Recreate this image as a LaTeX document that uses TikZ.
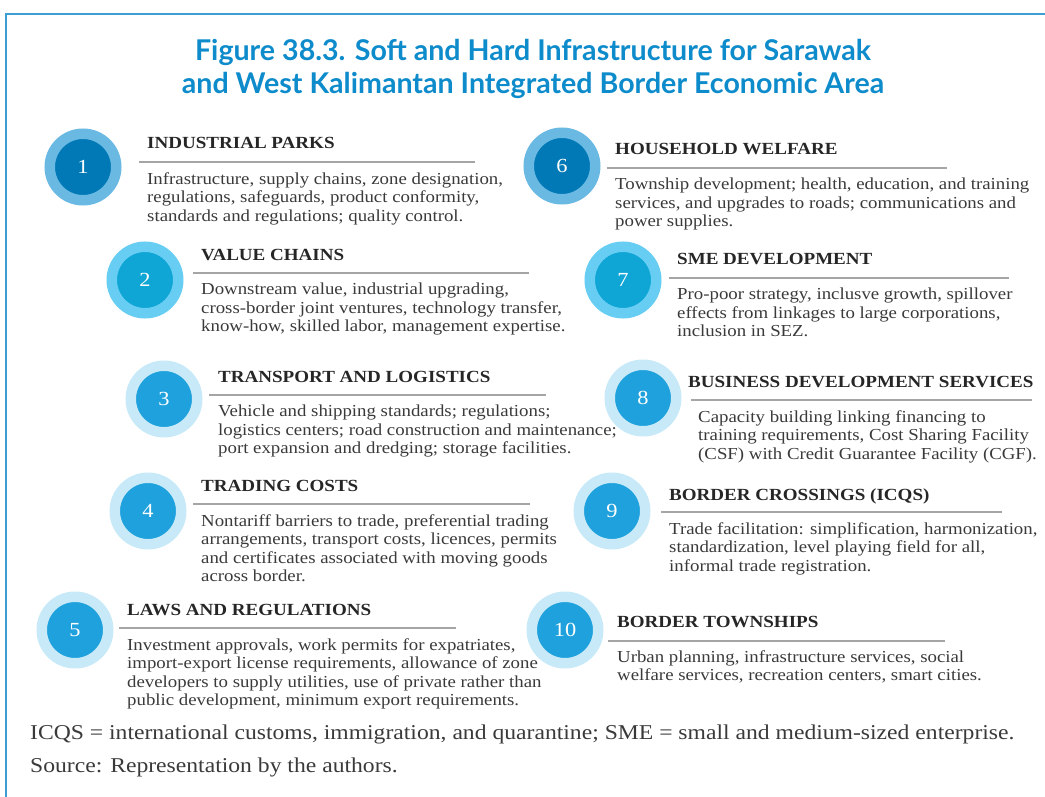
\documentclass[tikz,border=0pt]{standalone}
\usepackage{fontspec}
\setmainfont{Liberation Serif}[FakeStretch=1.12]
\newfontfamily\titlefont{Lato}
\definecolor{framblue}{HTML}{3C9FD4}
\definecolor{titleblue}{HTML}{0D8BCB}
\definecolor{darkout}{HTML}{6AB9E3}
\definecolor{darkin}{HTML}{0079B6}
\definecolor{midout}{HTML}{68CDF2}
\definecolor{midin}{HTML}{0FA6D6}
\definecolor{paleout}{HTML}{C7E9F8}
\definecolor{palein}{HTML}{1EA1DC}
\definecolor{rulegray}{HTML}{A5A5A5}
\definecolor{inkgray}{HTML}{3A3A3A}

\begin{document}
\begin{tikzpicture}[
    x=1pt, y=-1pt,
    ring/.style={circle, inner sep=0pt, minimum size=66.5pt, line width=10.5pt,
        text=white, font=\fontsize{20}{20}\selectfont},
    dark ring/.style={ring, draw=darkout, fill=darkin},
    mid ring/.style={ring, draw=midout, fill=midin},
    pale ring/.style={ring, draw=paleout, fill=palein},
    head/.style={anchor=base west, inner sep=0pt, text=black!85,
        font=\fontsize{17}{17}\selectfont\bfseries},
    body/.style={anchor=north west, inner sep=0pt, align=left, text=inkgray,
        font=\fontsize{16.8}{18.5}\selectfont, execute at begin node=\strut},
    rule/.style={rulegray, line width=1.4pt}
]
    \useasboundingbox (0,0) rectangle (1045,797);

    % --- 1. FRAME AND HEADING ---
    \draw[framblue, line width=2pt] (1045,14) -- (6,14) -- (6,797);
    \node[anchor=north, inner sep=0pt, align=center, text=titleblue,
        font=\titlefont\bfseries\fontsize{28.6}{33}\selectfont,
        execute at begin node=\strut] (heading) at (533,39)
        {Figure 38.3. Soft and Hard Infrastructure for Sarawak\\
         and West Kalimantan Integrated Border Economic Area};

    % \ly = rule height of each item; title sits 13 above, body 23 below
    % ==========================================
    % LEFT COLUMN
    % ==========================================
    % 1. Industrial parks
    \def\ly{162}
    \node[dark ring] (c1) at (83,167) {1};
    \node[head] (t1) at (147,\ly-13) {INDUSTRIAL PARKS};
    \draw[rule] (139,\ly) -- ++(336,0);
    \node[body] (b1) at (147,\ly+10) {Infrastructure, supply chains, zone designation,\\
        regulations, safeguards, product conformity,\\
        standards and regulations; quality control.};

    % 2. Value chains
    \def\ly{273}
    \node[mid ring] (c2) at (145,280) {2};
    \node[head] (t2) at (201,\ly-13) {VALUE CHAINS};
    \draw[rule] (193,\ly) -- ++(336,0);
    \node[body] (b2) at (201,\ly+10) {Downstream value, industrial upgrading,\\
        cross-border joint ventures, technology transfer,\\
        know-how, skilled labor, management expertise.};

    % 3. Transport and logistics
    \def\ly{395}
    \node[pale ring] (c3) at (164,399) {3};
    \node[head] (t3) at (218,\ly-13) {TRANSPORT AND LOGISTICS};
    \draw[rule] (209,\ly) -- ++(337,0);
    \node[body] (b3) at (218,\ly+10) {Vehicle and shipping standards; regulations;\\
        logistics centers; road construction and maintenance;\\
        port expansion and dredging; storage facilities.};

    % 4. Trading costs
    \def\ly{504}
    \node[pale ring] (c4) at (148,511) {4};
    \node[head] (t4) at (201,\ly-13) {TRADING COSTS};
    \draw[rule] (193,\ly) -- ++(337,0);
    \node[body] (b4) at (201,\ly+10) {Nontariff barriers to trade, preferential trading\\
        arrangements, transport costs, licences, permits\\
        and certificates associated with moving goods\\
        across border.};

    % 5. Laws and regulations
    \def\ly{628}
    \node[pale ring] (c5) at (75,630) {5};
    \node[head] (t5) at (127,\ly-13) {LAWS AND REGULATIONS};
    \draw[rule] (119,\ly) -- ++(337,0);
    \node[body] (b5) at (127,\ly+10) {Investment approvals, work permits for expatriates,\\
        import-export license requirements, allowance of zone\\
        developers to supply utilities, use of private rather than\\
        public development, minimum export requirements.};

    % ==========================================
    % RIGHT COLUMN
    % ==========================================
    % 6. Household welfare
    \def\ly{168}
    \node[dark ring] (c6) at (562,166) {6};
    \node[head] (t6) at (615,\ly-13) {HOUSEHOLD WELFARE};
    \draw[rule] (607,\ly) -- ++(340,0);
    \node[body] (b6) at (615,\ly+10) {Township development; health, education, and training\\
        services, and upgrades to roads; communications and\\
        power supplies.};

    % 7. SME development
    \def\ly{278}
    \node[mid ring] (c7) at (623,280) {7};
    \node[head] (t7) at (677,\ly-13) {SME DEVELOPMENT};
    \draw[rule] (669,\ly) -- ++(340,0);
    \node[body] (b7) at (677,\ly+10) {Pro-poor strategy, inclusve growth, spillover\\
        effects from linkages to large corporations,\\
        inclusion in SEZ.};

    % 8. Business development services
    \def\ly{400}
    \node[pale ring] (c8) at (643,398) {8};
    \node[head] (t8) at (688,\ly-13) {BUSINESS DEVELOPMENT SERVICES};
    \draw[rule] (691,\ly) -- ++(341,0);
    \node[body] (b8) at (698,\ly+10) {Capacity building linking financing to\\
        training requirements, Cost Sharing Facility\\
        (CSF) with Credit Guarantee Facility (CGF).};

    % 9. Border crossings
    \def\ly{512}
    \node[pale ring] (c9) at (612,511) {9};
    \node[head] (t9) at (669,\ly-12) {BORDER CROSSINGS (ICQS)};
    \draw[rule] (661,\ly) -- ++(341,0);
    \node[body] (b9) at (669,\ly+10) {Trade facilitation: simplification, harmonization,\\
        standardization, level playing field for all,\\
        informal trade registration.};

    % 10. Border townships
    \def\ly{641}
    \node[pale ring] (c10) at (565,630) {10};
    \node[head] (t10) at (617,\ly-14) {BORDER TOWNSHIPS};
    \draw[rule] (608,\ly) -- ++(337,0);
    \node[body] (b10) at (617,\ly+9) {Urban planning, infrastructure services, social\\
        welfare services, recreation centers, smart cities.};

    % --- NOTES ---
    \node[anchor=north west, inner sep=0pt, align=left, text=inkgray,
        font=\fontsize{21.1}{33}\selectfont, execute at begin node=\strut]
        (notes) at (30,725) {ICQS = international customs, immigration, and quarantine; SME = small and medium-sized enterprise.\\
        Source: Representation by the authors.};
\end{tikzpicture}
\end{document}
